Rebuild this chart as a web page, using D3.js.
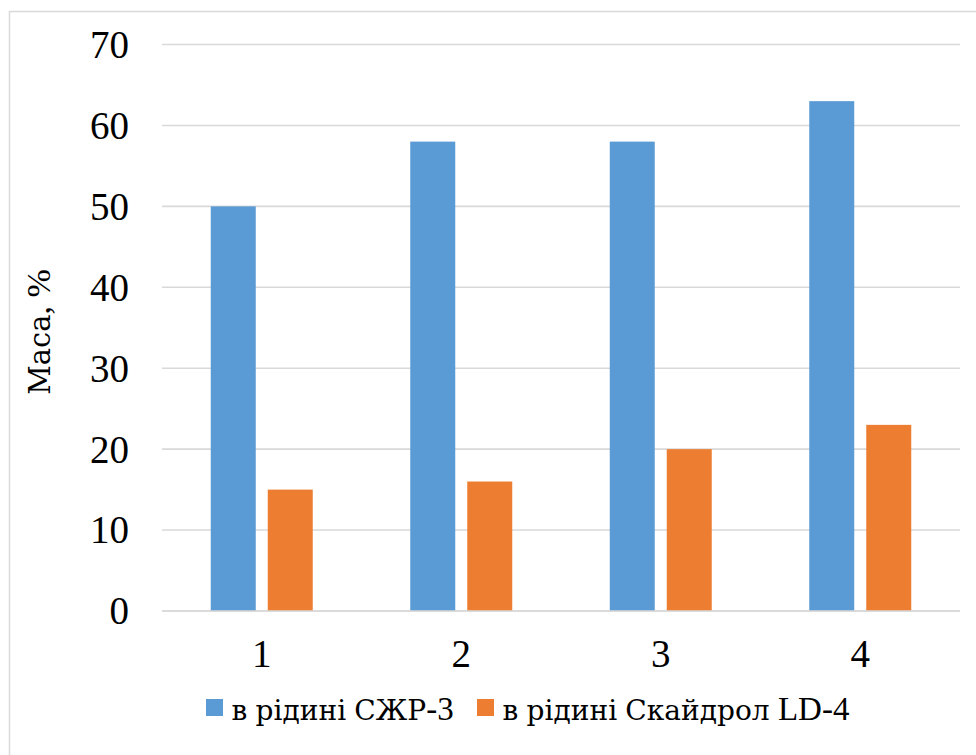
<!DOCTYPE html>
<html>
<head>
<meta charset="utf-8">
<script src="https://cdn.jsdelivr.net/npm/d3@7"></script>
<style>
  html, body { margin: 0; padding: 0; background: #fff; }
</style>
</head>
<body>
<svg id="chart" width="976" height="755"></svg>
<script>
// Sample numbers on the category axis
const categories = ["1", "2", "3", "4"];
// Mass share, %, for each liquid
const seriesNames = ["в рідині СЖР-3", "в рідині Скайдрол LD-4"];
const valuesSZhR = [50, 58, 58, 63];
const valuesSkydrol = [15, 16, 20, 23];
const yTicks = [0, 10, 20, 30, 40, 50, 60, 70];
const yTitle = "Маса, %";

const colors = ["#5b9bd5", "#ed7d31"];
const seriesValues = [valuesSZhR, valuesSkydrol];
const serif = "Liberation Serif";
const cyrSerif = "DejaVu Serif";
const cyrScale = 0.85;

// Writes a label as tspans so Cyrillic runs get a serif face that has those glyphs
function serifText(sel, str, size) {
  const runs = str.match(/[\u0400-\u04FF]+|[^\u0400-\u04FF]+/g) || [];
  sel.selectAll("tspan")
    .data(runs)
    .join("tspan")
    .attr("font-family", d => /[\u0400-\u04FF]/.test(d) ? cyrSerif : serif)
    .attr("font-size", d => /[\u0400-\u04FF]/.test(d) ? size * cyrScale : size)
    .text(d => d);
  return sel;
}

const svg = d3.select("#chart").attr("font-family", serif);

// Outer chart frame
svg.append("rect")
  .attr("x", 9.5).attr("y", 11.5)
  .attr("width", 1000).attr("height", 1000)
  .attr("fill", "#fff")
  .attr("stroke", "#d9d9d9").attr("stroke-width", 1.5);

const plot = { left: 162, right: 960, top: 44.5, bottom: 611 };

const y = d3.scaleLinear().domain([0, 70]).range([plot.bottom, plot.top]);
const x0 = d3.scaleBand().domain(categories).range([plot.left, plot.right]).padding(0);
const groupWidth = 102;
const x1 = d3.scaleBand().domain(seriesNames).range([0, groupWidth]).paddingInner(0.2105).paddingOuter(0);
const groupOffset = (x0.bandwidth() - groupWidth) / 2;

// Horizontal gridlines
svg.append("g")
  .selectAll("line")
  .data(yTicks)
  .join("line")
  .attr("x1", plot.left).attr("x2", plot.right)
  .attr("y1", d => y(d)).attr("y2", d => y(d))
  .attr("stroke", "#d9d9d9").attr("stroke-width", 1.6);

// Y axis tick labels
const yAxis = d3.axisLeft(y).tickValues(yTicks).tickSize(0).tickPadding(0);
const yg = svg.append("g").attr("transform", `translate(${plot.left - 33},0)`).call(yAxis);
yg.attr("font-family", serif);
yg.select(".domain").remove();
yg.selectAll("text")
  .attr("font-family", serif)
  .attr("font-size", 39).attr("fill", "#000")
  .attr("dy", "0.33em");

// Bars
const groups = svg.append("g")
  .selectAll("g")
  .data(categories)
  .join("g")
  .attr("transform", d => `translate(${x0(d) + groupOffset},0)`);

groups.selectAll("rect")
  .data((d, i) => seriesNames.map((s, j) => ({ s, j, v: seriesValues[j][i] })))
  .join("rect")
  .attr("x", d => x1(d.s))
  .attr("width", x1.bandwidth())
  .attr("y", d => y(d.v))
  .attr("height", d => y(0) - y(d.v))
  .attr("fill", d => colors[d.j]);

// Baseline drawn over the bars' feet
svg.append("line")
  .attr("x1", plot.left).attr("x2", plot.right)
  .attr("y1", y(0)).attr("y2", y(0))
  .attr("stroke", "#d9d9d9").attr("stroke-width", 1.6);

// X axis category labels
const xAxis = d3.axisBottom(x0).tickSize(0).tickPadding(0);
const xg = svg.append("g").attr("transform", `translate(0,${plot.bottom})`).call(xAxis);
xg.attr("font-family", serif);
xg.select(".domain").remove();
xg.selectAll("text")
  .attr("font-family", serif)
  .attr("font-size", 39).attr("fill", "#000")
  .attr("y", 56).attr("dy", 0);

// Y axis title
const title = svg.append("text")
  .attr("transform", "translate(50,332) rotate(-90)")
  .attr("text-anchor", "middle")
  .attr("fill", "#000");
serifText(title, yTitle, 34);

// Legend
const legendItems = [
  { name: seriesNames[0], color: colors[0], x: 206 },
  { name: seriesNames[1], color: colors[1], x: 477 }
];
const legend = svg.append("g");
legendItems.forEach(it => {
  legend.append("rect")
    .attr("x", it.x).attr("y", 699)
    .attr("width", 17).attr("height", 17)
    .attr("fill", it.color);
  const t = legend.append("text")
    .attr("x", it.x + 25.5).attr("y", 720)
    .attr("fill", "#000");
  serifText(t, it.name, 33);
});
</script>
</body>
</html>
